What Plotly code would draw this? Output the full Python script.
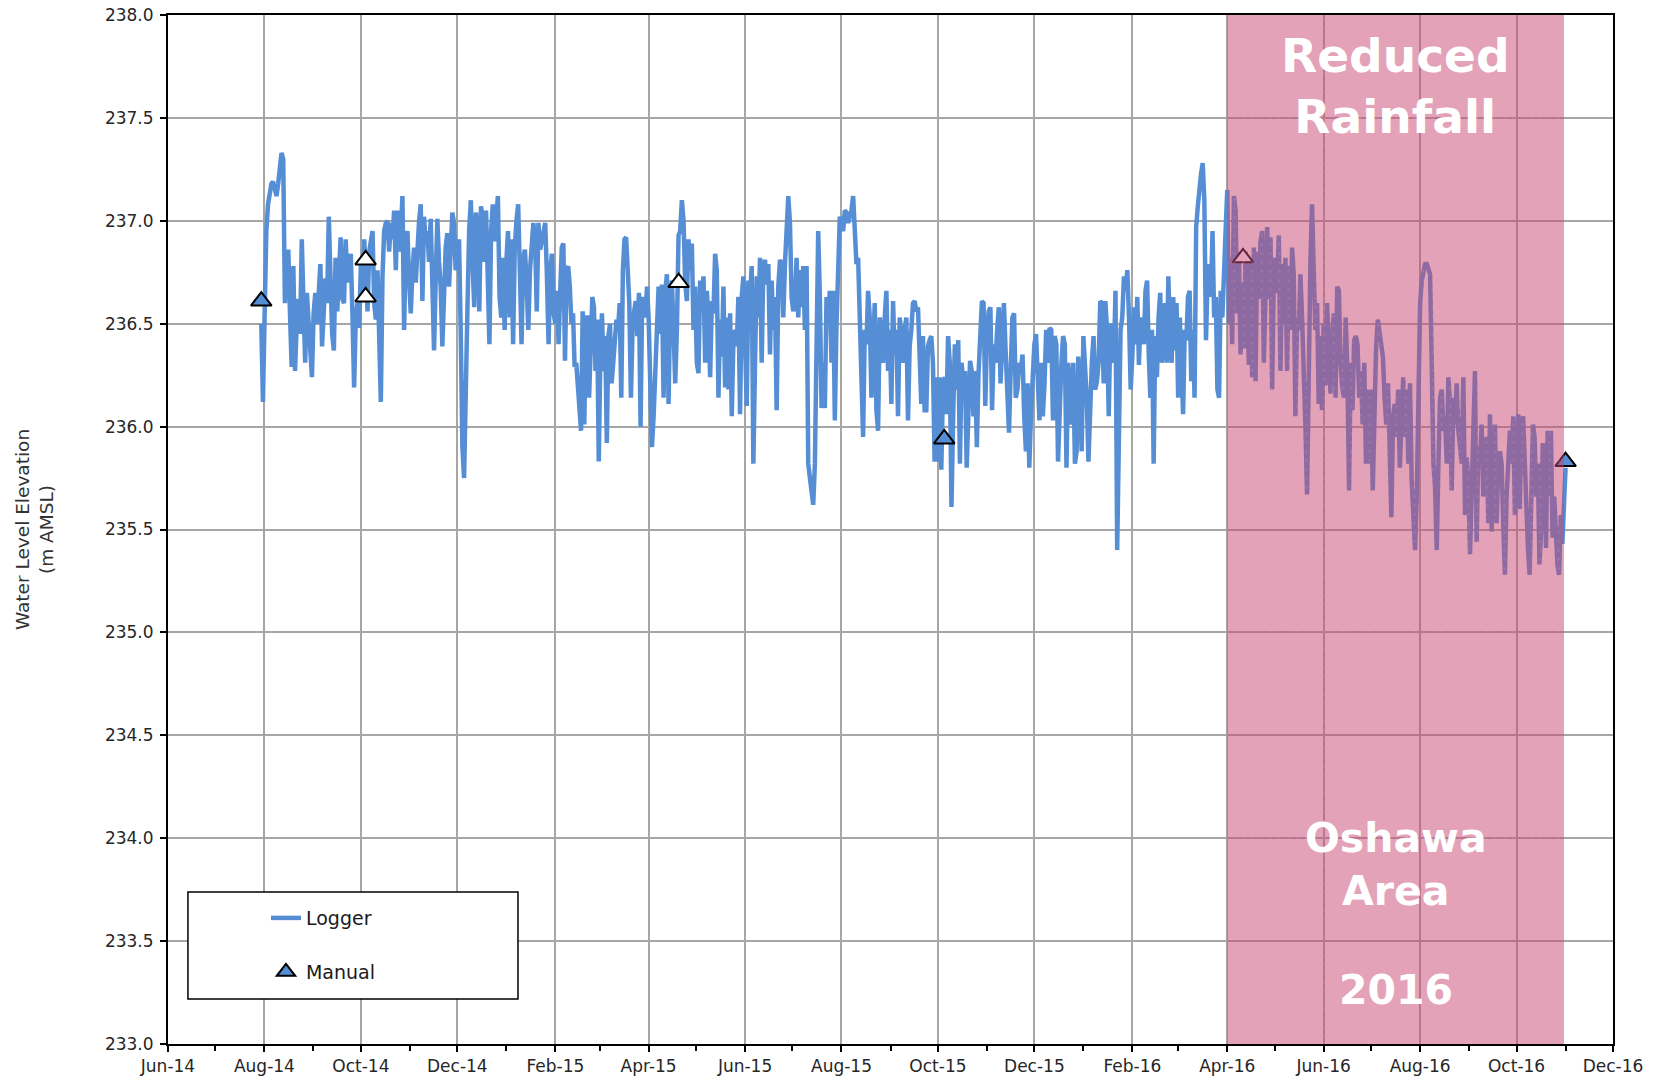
import pandas as pd
import plotly.graph_objects as go

# ---------------- data ----------------
# Logger record in two-month blocks; the readings in each
# block are evenly spaced in time between consecutive SEGMENT_BOUNDS dates.
SEGMENT_BOUNDS = ["2014-07-30", "2014-10-01", "2014-12-01", "2015-02-01", "2015-04-01",
                  "2015-06-01", "2015-08-01", "2015-10-01", "2015-12-01", "2016-02-01",
                  "2016-04-01", "2016-06-01", "2016-08-01", "2016-10-01", "2016-10-31"]

LOGGER_A = [236.50, 236.12, 236.55, 236.95, 237.08, 237.15, 237.18, 237.19, 237.16, 237.12,
            237.18, 237.24, 237.33, 237.30, 236.60, 236.79, 236.86, 236.55, 236.29, 236.78,
            236.27, 236.50, 236.62, 236.45, 236.91, 236.60, 236.31, 236.65, 236.50, 236.32,
            236.24, 236.55, 236.65, 236.50, 236.70, 236.79, 236.39, 236.55, 236.72, 236.60,
            237.02, 236.73, 236.45, 236.37, 236.82, 236.56, 236.80, 236.92, 236.62, 236.60,
            236.91, 236.70, 236.78, 236.84, 236.55, 236.19, 236.53, 236.60, 236.48]
LOGGER_B = [236.79, 236.62, 236.91, 236.75, 236.56, 236.85, 236.91, 236.95, 236.60, 236.52,
            236.76, 236.30, 236.12, 236.73, 236.95, 236.99, 237.00, 236.85, 236.99, 236.91,
            237.05, 236.76, 237.05, 236.85, 236.94, 237.12, 236.47, 236.90, 236.95, 236.71,
            236.55, 236.75, 236.87, 236.70, 236.89, 237.00, 237.08, 236.61, 237.02, 236.89,
            236.95, 236.80, 237.01, 236.55, 236.37, 236.71, 237.01, 236.80, 236.68, 236.39,
            236.75, 236.87, 236.94, 236.68, 236.85, 237.04, 236.99, 236.76]
LOGGER_C = [236.79, 236.91, 236.47, 235.90, 235.75, 236.31, 236.58, 236.95, 237.10, 236.80,
            236.58, 237.04, 236.95, 236.56, 237.07, 237.02, 236.80, 237.05, 236.66, 236.40,
            236.95, 237.08, 236.90, 237.04, 237.12, 236.63, 236.53, 236.82, 236.47, 236.80,
            236.95, 236.53, 236.91, 236.40, 236.87, 237.00, 237.08, 236.76, 236.40, 236.82,
            236.86, 236.70, 236.47, 236.76, 236.90, 236.99, 236.91, 236.56, 236.99, 236.86,
            236.90, 236.95, 236.99, 236.74, 236.40, 236.76, 236.84, 236.55]
LOGGER_D = [236.50, 236.66, 236.40, 236.65, 236.87, 236.89, 236.32, 236.76, 236.78, 236.68,
            236.50, 236.55, 236.29, 236.31, 236.21, 236.08, 235.98, 236.56, 236.01, 236.53,
            236.53, 236.14, 236.42, 236.63, 236.58, 236.27, 236.52, 235.83, 236.35, 236.55,
            236.27, 236.44, 235.92, 236.44, 236.50, 236.21, 236.31, 236.47, 236.52, 236.47,
            236.60, 236.14, 236.76, 236.91, 236.92, 236.76, 236.60, 236.14, 236.47, 236.56,
            236.61, 236.44, 236.65, 236.00, 236.63, 236.60, 236.53, 236.68]
LOGGER_E = [236.53, 236.21, 235.90, 236.05, 236.30, 236.56, 236.68, 236.45, 236.69, 236.14,
            236.65, 236.74, 236.11, 236.63, 236.71, 236.47, 236.21, 236.47, 236.93, 236.95,
            237.10, 237.00, 236.70, 236.61, 236.91, 236.76, 236.89, 236.47, 236.68, 236.31,
            236.26, 236.71, 236.60, 236.73, 236.31, 236.66, 236.53, 236.24, 236.61, 236.55,
            236.84, 236.76, 236.14, 236.52, 236.34, 236.68, 236.19, 236.53, 236.18, 236.55,
            236.05, 236.42, 236.47, 236.39, 236.63, 236.06, 236.63, 236.73]
LOGGER_F = [236.30, 236.10, 236.71, 236.63, 236.78, 235.82, 236.31, 236.73, 236.53, 236.82,
            236.31, 236.78, 236.81, 236.69, 236.79, 236.35, 236.71, 236.47, 236.63, 236.08,
            236.68, 236.81, 236.79, 236.53, 236.79, 236.95, 237.12, 236.99, 236.63, 236.56,
            236.60, 236.82, 236.53, 236.76, 236.58, 236.78, 236.47, 236.78, 235.82, 235.75,
            235.66, 235.62, 235.82, 236.31, 236.95, 236.63, 236.09, 236.31, 236.09, 236.63,
            236.53, 236.66, 236.31, 236.66, 236.03, 236.50, 236.89, 237.02]
LOGGER_G = [236.98, 236.95, 237.05, 237.04, 236.99, 237.02, 237.05, 237.12, 236.95, 236.79,
            236.82, 236.53, 236.22, 235.95, 236.47, 236.40, 236.66, 236.53, 236.14, 236.47,
            236.60, 236.08, 235.98, 236.53, 236.40, 236.31, 236.53, 236.66, 236.27, 236.47,
            236.11, 236.61, 236.35, 236.47, 236.05, 236.53, 236.45, 236.31, 236.47, 236.53,
            236.03, 236.39, 236.47, 236.60, 236.61, 236.56, 236.58, 236.40, 236.11, 236.44,
            236.08, 236.08, 236.39, 236.42, 236.44, 236.31, 235.83, 236.24]
LOGGER_H = [235.83, 236.24, 235.79, 236.21, 236.24, 236.06, 236.44, 236.31, 235.61, 236.05,
            236.40, 236.18, 236.42, 235.82, 236.31, 236.21, 236.27, 235.80, 236.18, 236.32,
            236.27, 236.05, 236.27, 235.90, 236.26, 236.47, 236.61, 236.60, 236.10, 236.44,
            236.56, 236.58, 236.08, 236.40, 236.31, 236.47, 236.58, 236.21, 236.47, 236.60,
            236.37, 236.18, 235.97, 236.27, 236.53, 236.55, 236.14, 236.18, 236.31, 236.27,
            236.35, 236.05, 235.88, 236.21, 235.80, 236.06, 236.24]
LOGGER_I = [236.40, 236.45, 236.24, 236.03, 236.31, 236.05, 236.21, 236.47, 236.31, 236.48,
            236.47, 236.03, 236.44, 236.40, 235.83, 236.14, 236.31, 236.44, 236.40, 235.80,
            236.31, 236.01, 236.14, 236.31, 235.82, 235.88, 236.34, 236.14, 235.88, 236.44,
            236.31, 236.14, 235.83, 236.18, 236.31, 236.44, 236.18, 236.22, 236.31, 236.61,
            236.60, 236.21, 236.61, 236.47, 236.05, 236.50, 236.47, 236.31, 236.66, 235.40,
            236.14, 236.47, 236.53, 236.73, 236.66, 236.76, 236.53, 236.18]
LOGGER_J = [236.35, 236.58, 236.40, 236.63, 236.30, 236.53, 236.50, 236.40, 236.66, 236.71,
            236.35, 236.14, 236.47, 235.82, 236.44, 236.24, 236.53, 236.65, 236.31, 236.42,
            236.60, 236.31, 236.73, 236.40, 236.31, 236.63, 236.37, 236.60, 236.14, 236.53,
            236.27, 236.06, 236.47, 236.42, 236.63, 236.66, 236.22, 236.47, 236.14, 236.97,
            237.07, 237.18, 237.23, 237.28, 237.10, 236.42, 236.73, 236.79, 236.63, 236.95,
            236.53, 236.63, 236.18, 236.14, 236.66, 236.53, 236.82, 236.95]
LOGGER_K = [237.15, 236.50, 236.82, 236.40, 237.12, 237.05, 236.55, 236.85, 236.35, 236.70,
            236.38, 236.85, 236.60, 236.30, 236.80, 236.24, 236.87, 236.22, 236.85, 236.62,
            236.90, 236.95, 236.31, 236.78, 236.97, 236.62, 236.92, 236.18, 236.74, 236.82,
            236.65, 236.93, 236.27, 236.79, 236.50, 236.82, 236.27, 236.78, 236.47, 236.87,
            236.74, 236.05, 236.53, 236.47, 236.74, 236.53, 236.31, 236.01, 235.67, 236.31,
            236.79, 237.08, 236.66, 236.47, 236.60, 236.11, 236.44, 236.08]
LOGGER_L = [236.50, 236.20, 236.60, 236.42, 236.16, 236.44, 236.55, 236.14, 236.68, 236.66,
            236.30, 236.19, 236.14, 236.53, 236.27, 235.69, 236.31, 236.08, 236.42, 236.44,
            236.40, 236.14, 236.27, 236.01, 236.31, 235.82, 236.18, 235.82, 236.18, 235.69,
            236.08, 236.39, 236.52, 236.47, 236.40, 236.34, 236.14, 236.01, 236.21, 235.88,
            235.56, 236.05, 236.11, 235.95, 236.18, 235.80, 236.01, 236.24, 235.95, 236.18,
            235.82, 236.21, 235.74, 235.57, 235.40, 235.66, 236.14]
LOGGER_M = [236.60, 236.71, 236.76, 236.79, 236.79, 236.76, 236.74, 236.30, 235.82, 235.70,
            235.40, 235.82, 236.14, 236.18, 235.98, 236.05, 235.82, 236.24, 236.11, 235.69,
            236.14, 236.01, 236.21, 235.98, 235.88, 235.82, 236.24, 235.57, 235.85, 235.74,
            235.38, 235.74, 235.98, 236.27, 235.44, 235.90, 235.82, 236.01, 235.66, 235.79,
            235.95, 235.53, 236.06, 235.49, 235.82, 236.01, 235.53, 235.82, 235.88, 235.82,
            235.53, 235.28, 235.66, 235.82, 235.98, 235.82, 236.05, 235.57]
LOGGER_N = [235.90, 236.06, 235.60, 236.02, 236.05, 235.80, 235.55, 235.40, 235.28, 235.82,
            236.01, 235.95, 235.66, 235.82, 235.33, 235.49, 235.92, 235.79, 235.41, 235.98,
            235.66, 235.98, 235.46, 235.66, 235.49, 235.33, 235.28, 235.57, 235.43]
LOGGER_SEGMENTS = [LOGGER_A, LOGGER_B, LOGGER_C, LOGGER_D, LOGGER_E, LOGGER_F, LOGGER_G,
                   LOGGER_H, LOGGER_I, LOGGER_J, LOGGER_K, LOGGER_L, LOGGER_M, LOGGER_N]
LOGGER_END_DATE = "2016-11-01"
LOGGER_END_VALUE = 235.80

MANUAL_DATES = ["2014-07-30", "2014-10-04", "2014-10-04", "2015-04-20", "2015-10-05",
                "2016-04-11", "2016-11-01"]
MANUAL_VALUES = [236.61, 236.81, 236.63, 236.70, 235.94, 236.82, 235.83]

REGION = ["2016-04-01", "2016-10-31"]
Y_RANGE = [233.0, 238.0]
X_RANGE = ["2014-06-01", "2016-12-01"]

# ---------------- build series ----------------
logger_x, logger_y = [], []
for i, vals in enumerate(LOGGER_SEGMENTS):
    t0 = pd.Timestamp(SEGMENT_BOUNDS[i])
    t1 = pd.Timestamp(SEGMENT_BOUNDS[i + 1])
    n = len(vals)
    for k, v in enumerate(vals):
        logger_x.append((t0 + (t1 - t0) * k / n).isoformat())
        logger_y.append(v)
logger_x.append(pd.Timestamp(LOGGER_END_DATE).isoformat())
logger_y.append(LOGGER_END_VALUE)

# ---------------- styling ----------------
BLUE = "#558ED5"
FONT = "DejaVu Sans"
MANUAL_FILLS = [BLUE, "white", "white", "white", BLUE, "white", BLUE]

fig = go.Figure()
fig.add_trace(go.Scatter(x=logger_x, y=logger_y, mode="lines", name="Logger",
                         line=dict(color=BLUE, width=4.5), legend="legend"))
fig.add_trace(go.Scatter(x=MANUAL_DATES, y=MANUAL_VALUES, mode="markers", name="Manual",
                         marker=dict(symbol="triangle-up", size=18, color=MANUAL_FILLS,
                                     line=dict(color="black", width=2)),
                         legend="legend2"))
# dotted texture of the highlighted period
fig.add_trace(go.Scatter(x=[REGION[0], REGION[1], REGION[1], REGION[0], REGION[0]],
                         y=[Y_RANGE[0], Y_RANGE[0], Y_RANGE[1], Y_RANGE[1], Y_RANGE[0]],
                         mode="none", fill="toself", fillcolor="rgba(0,0,0,0)",
                         fillpattern=dict(shape=".", fgcolor="white", fgopacity=0.25,
                                          bgcolor="rgba(0,0,0,0)", size=9, solidity=0.05),
                         hoverinfo="skip", showlegend=False))

mid = pd.Timestamp(REGION[0]) + (pd.Timestamp(REGION[1]) - pd.Timestamp(REGION[0])) / 2
mid = mid.isoformat()

axis_common = dict(showgrid=True, gridcolor="#A6A6A6", gridwidth=1.5, zeroline=False,
                   showline=True, linecolor="black", linewidth=2, mirror=True,
                   ticks="outside", ticklen=6, tickwidth=2, tickcolor="black",
                   tickfont=dict(size=17, color="#262626"), automargin=False)

fig.update_layout(
    width=1653, height=1082,
    margin=dict(l=168, r=40, t=15, b=38),
    plot_bgcolor="white", paper_bgcolor="white",
    font=dict(family=FONT, size=16, color="#262626"),
    xaxis=dict(type="date", range=X_RANGE, tick0="2014-06-01", dtick="M2", tickformat="%b-%y",
               minor=dict(dtick="M1", ticks="outside", ticklen=5, tickwidth=1.5,
                          tickcolor="black", showgrid=False),
               **axis_common),
    yaxis=dict(range=Y_RANGE, dtick=0.5, tick0=233, tickformat=".1f", ticklabelstandoff=3,
               title=dict(text="Water Level Elevation<br>(m AMSL)", standoff=46,
                          font=dict(size=18.5, color="#333333")),
               **axis_common),
    legend=dict(x=0.0678, xanchor="left", y=0.1224, yanchor="middle",
                bgcolor="rgba(0,0,0,0)", borderwidth=0,
                font=dict(size=19, family=FONT, color="#1a1a1a")),
    legend2=dict(x=0.0678, xanchor="left", y=0.070, yanchor="middle",
                 bgcolor="rgba(0,0,0,0)", borderwidth=0,
                 font=dict(size=19, family=FONT, color="#1a1a1a")),
    shapes=[
        dict(type="rect", xref="x", yref="y", x0=REGION[0], x1=REGION[1],
             y0=Y_RANGE[0], y1=Y_RANGE[1], fillcolor="rgba(200,70,112,0.5)",
             line=dict(width=0), layer="above"),
        dict(type="rect", xref="paper", yref="paper", x0=0.0138, x1=0.2422,
             y0=0.0437, y1=0.1477, fillcolor="white",
             line=dict(color="black", width=1.5), layer="above"),
    ],
    annotations=[
        dict(x=mid, y=237.655, xref="x", yref="y", text="<b>Reduced<br>Rainfall</b>",
             showarrow=False, font=dict(size=47, color="white", family=FONT)),
        dict(x=mid, y=233.872, xref="x", yref="y", text="<b>Oshawa<br>Area</b>",
             showarrow=False, font=dict(size=41, color="white", family=FONT)),
        dict(x=mid, y=233.26, xref="x", yref="y", text="<b>2016</b>",
             showarrow=False, font=dict(size=41, color="white", family=FONT)),
    ],
)

fig.write_html("out.html", config={"displayModeBar": False},
               post_script="document.body.style.margin='0';document.body.style.overflow='hidden';")
